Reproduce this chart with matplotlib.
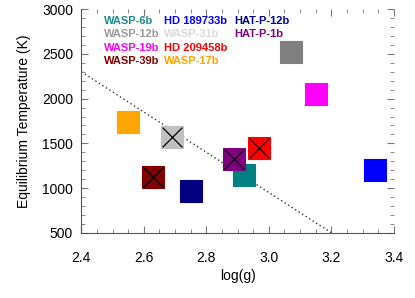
import matplotlib
matplotlib.use('Agg')
import matplotlib.pyplot as plt
from matplotlib.ticker import MultipleLocator

plt.rcParams['font.family'] = ['Liberation Sans', 'DejaVu Sans']

# planets, in legend order (row by row)
planets = ['WASP-6b', 'HD 189733b', 'HAT-P-12b',
           'WASP-12b', 'WASP-31b', 'HAT-P-1b',
           'WASP-19b', 'HD 209458b',
           'WASP-39b', 'WASP-17b']
logg = [2.92, 3.34, 2.75, 3.07, 2.69, 2.89, 3.15, 2.97, 2.63, 2.55]
teq = [1145, 1200, 965, 2525, 1575, 1320, 2050, 1450, 1120, 1740]
crossed = [False, False, False, False, True, True, False, True, True, False]

# dotted trend line end points
line_logg = [2.4, 3.2]
line_teq = [2300, 500]

square_colors = ['#008080', '#0000ff', '#000080', '#808080', '#c0c0c0',
                 '#800080', '#ff00ff', '#ff0000', '#800000', '#ffa500']
text_colors = ['#1a8a8a', '#0000ff', '#000090', '#9a9a9a', '#dadada',
               '#800080', '#ff00ff', '#ff0000', '#800000', '#ffa500']

fig = plt.figure(figsize=(4.15, 2.98), dpi=100)
ax = fig.add_axes([0.196, 0.219, 0.753, 0.750])

ax.plot(line_logg, line_teq, linestyle=(0, (1, 2)), color='#333333', lw=1, zorder=1)

for i in range(len(planets)):
    ax.scatter(logg[i], teq[i], marker='s', s=250, color=square_colors[i],
               edgecolors=square_colors[i], linewidths=0.8, alpha=1, zorder=2)
    if crossed[i]:
        ax.scatter(logg[i], teq[i], marker='x', s=200, color='black',
                   linewidths=0.9, zorder=3)

ax.set_xlim(2.4, 3.4)
ax.set_ylim(500, 3000)
ax.xaxis.set_major_locator(MultipleLocator(0.2))
ax.xaxis.set_minor_locator(MultipleLocator(0.05))
ax.yaxis.set_major_locator(MultipleLocator(500))
ax.yaxis.set_minor_locator(MultipleLocator(100))
ax.xaxis.set_major_formatter(matplotlib.ticker.FormatStrFormatter('%.1f'))

for side in ['top', 'right']:
    ax.spines[side].set_visible(False)
for side in ['left', 'bottom']:
    ax.spines[side].set_color('#555555')
    ax.spines[side].set_linewidth(0.8)

ax.tick_params(which='both', direction='in', top=True, right=True,
               color='#777777', labelsize=10)
ax.tick_params(which='major', length=5, width=0.8)
ax.tick_params(which='minor', length=3, width=0.6)
ax.tick_params(axis='x', pad=13)
ax.tick_params(axis='y', pad=6)

ax.set_xlabel('log(g)', fontsize=10, labelpad=3)
ax.set_ylabel('Equilibrium Temperature (K)', fontsize=10, labelpad=8)

# coloured name labels
col_x = [0.0715, 0.266, 0.488]
row_y = [0.948, 0.888, 0.827, 0.767]
k = 0
rows = [3, 3, 2, 2]
for r, n in enumerate(rows):
    for c in range(n):
        ax.text(col_x[c], row_y[r], planets[k], color=text_colors[k],
                fontsize=8, fontweight='bold', transform=ax.transAxes,
                ha='left', va='center')
        k += 1

fig.savefig('out.png', dpi=100)
